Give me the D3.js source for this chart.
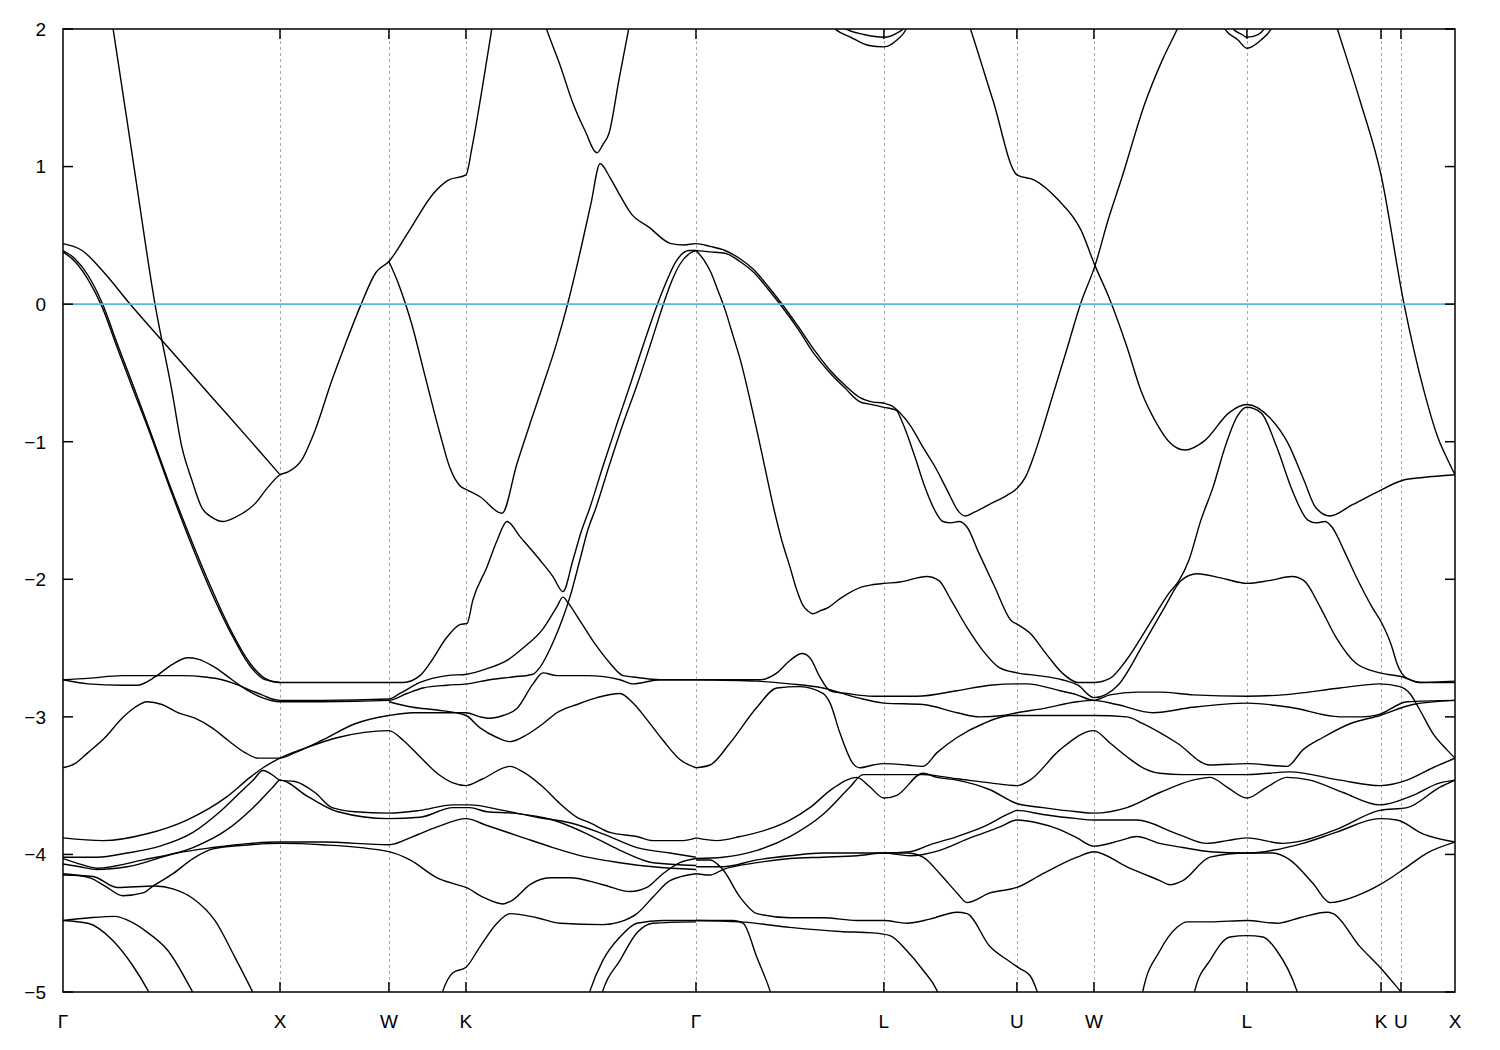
<!DOCTYPE html>
<html><head><meta charset="utf-8">
<script src="https://cdn.jsdelivr.net/npm/d3@7"></script>
<style>body{margin:0;background:#fff;} svg{display:block;}</style>
</head><body>
<svg id="chart" width="1500" height="1050"></svg>
<script>
// ---- axis data ----
const kTicks = [0, 1.0, 1.502, 1.857, 2.917, 3.783, 4.396, 4.751, 5.456, 6.074, 6.166, 6.415];
const kLabels = ["Γ","X","W","K","Γ","L","U","W","L","K","U","X"];
const eTicks = [-5,-4,-3,-2,-1,0,1,2];
const eDomain = [-5, 2];
const fermiLevel = 0;

// ---- bands: [k, E(eV)] ----
const band01 = [[0.221,2.10],[0.230,2.01],[0.327,1.00],[0.424,0],[0.502,-0.63],[0.548,-1.04],[0.594,-1.28],[0.640,-1.48],[0.687,-1.55],[0.737,-1.58],[0.793,-1.55],[0.885,-1.45],[0.945,-1.33],[1.0,-1.24],[1.037,-1.22],[1.101,-1.13],[1.161,-0.92],[1.240,-0.55],[1.299,-0.30],[1.369,-0.02],[1.442,0.23],[1.502,0.31],[1.590,0.52],[1.710,0.81],[1.774,0.90],[1.857,0.94],[1.885,1.14],[1.931,1.56],[1.977,2.01],[1.986,2.10]];
const band02 = [[0,0.44],[0.088,0.39],[0.189,0.23],[0.304,0.01],[0.493,-0.33],[0.677,-0.66],[0.862,-0.99],[1.0,-1.24]];
const band03 = [[0,0.39],[0.055,0.33],[0.115,0.21],[0.180,0.01],[0.253,-0.30],[0.323,-0.59],[0.401,-0.92],[0.493,-1.32],[0.585,-1.69],[0.677,-2.04],[0.770,-2.36],[0.862,-2.61],[0.931,-2.72],[1.0,-2.75],[1.194,-2.75],[1.502,-2.75],[1.567,-2.75],[1.645,-2.70],[1.691,-2.61],[1.770,-2.42],[1.829,-2.33],[1.862,-2.32],[1.889,-2.15],[1.954,-1.91],[2.0,-1.72],[2.046,-1.58],[2.106,-1.69],[2.198,-1.86],[2.258,-1.98],[2.304,-2.09],[2.350,-1.86],[2.387,-1.66],[2.428,-1.48],[2.488,-1.18],[2.553,-0.87],[2.613,-0.59],[2.682,-0.26],[2.742,0.01],[2.788,0.19],[2.825,0.31],[2.885,0.39],[2.917,0.39]];
const band04 = [[0,0.38],[0.055,0.31],[0.115,0.18],[0.180,-0.02],[0.253,-0.33],[0.323,-0.62],[0.401,-0.94],[0.493,-1.34],[0.585,-1.72],[0.677,-2.07],[0.770,-2.38],[0.862,-2.63],[0.931,-2.73],[1.0,-2.75]];
const band05 = [[0,-2.73],[0.115,-2.72],[0.272,-2.70],[0.424,-2.70],[0.548,-2.70],[0.654,-2.71],[0.733,-2.73],[0.793,-2.76],[0.853,-2.80],[0.917,-2.84],[0.963,-2.87],[1.0,-2.88],[1.194,-2.88],[1.502,-2.87],[1.553,-2.83],[1.645,-2.75],[1.770,-2.70],[1.862,-2.69],[1.954,-2.65],[2.046,-2.59],[2.120,-2.50],[2.212,-2.36],[2.276,-2.20],[2.304,-2.13],[2.327,-2.17],[2.382,-2.30],[2.461,-2.49],[2.521,-2.61],[2.581,-2.70],[2.627,-2.71],[2.751,-2.73],[2.917,-2.73]];
const band06 = [[0,-2.73],[0.115,-2.76],[0.272,-2.77],[0.341,-2.77],[0.424,-2.71],[0.502,-2.62],[0.576,-2.57],[0.622,-2.58],[0.700,-2.64],[0.779,-2.73],[0.853,-2.81],[0.917,-2.86],[1.0,-2.89],[1.194,-2.89],[1.502,-2.88],[1.585,-2.83],[1.659,-2.79],[1.770,-2.77],[1.862,-2.76],[1.968,-2.73],[2.074,-2.71],[2.166,-2.69],[2.198,-2.64],[2.258,-2.46],[2.304,-2.28],[2.336,-2.13],[2.382,-1.86],[2.419,-1.64],[2.456,-1.48],[2.516,-1.18],[2.581,-0.87],[2.645,-0.59],[2.714,-0.26],[2.769,0.01],[2.806,0.17],[2.843,0.29],[2.889,0.37],[2.917,0.39]];
const band07 = [[0,-3.37],[0.055,-3.34],[0.115,-3.26],[0.194,-3.15],[0.272,-3.01],[0.332,-2.93],[0.387,-2.89],[0.456,-2.91],[0.530,-2.97],[0.608,-3.01],[0.687,-3.08],[0.760,-3.17],[0.839,-3.26],[0.899,-3.30],[1.0,-3.30],[1.069,-3.26],[1.194,-3.17],[1.346,-3.05],[1.502,-2.99],[1.613,-2.97],[1.770,-2.97],[1.857,-2.97],[1.922,-3.00],[1.968,-3.01],[2.028,-2.99],[2.092,-2.94],[2.166,-2.76],[2.212,-2.68],[2.276,-2.70],[2.415,-2.70],[2.567,-2.73],[2.627,-2.76],[2.751,-2.73],[2.917,-2.73]];
const band08 = [[0,-3.88],[0.184,-3.90],[0.387,-3.85],[0.571,-3.75],[0.756,-3.58],[0.862,-3.44],[0.922,-3.37],[1.0,-3.30],[1.129,-3.22],[1.267,-3.15],[1.502,-3.10],[1.567,-3.17],[1.645,-3.29],[1.724,-3.41],[1.797,-3.48],[1.857,-3.50],[1.935,-3.45],[2.060,-3.36],[2.120,-3.40],[2.212,-3.51],[2.290,-3.63],[2.369,-3.73],[2.429,-3.77],[2.521,-3.84],[2.645,-3.87],[2.719,-3.90],[2.857,-3.90],[2.917,-3.88]];
const band09 = [[1.502,-2.89],[1.613,-2.93],[1.724,-2.95],[1.857,-2.99],[1.922,-3.08],[2.0,-3.15],[2.060,-3.18],[2.138,-3.13],[2.212,-3.05],[2.276,-2.97],[2.369,-2.91],[2.461,-2.86],[2.567,-2.83],[2.627,-2.90],[2.691,-3.02],[2.765,-3.17],[2.843,-3.31],[2.917,-3.37]];
const band10 = [[0,-4.02],[0.157,-4.02],[0.295,-3.99],[0.447,-3.94],[0.599,-3.84],[0.723,-3.69],[0.816,-3.55],[0.876,-3.46],[0.922,-3.39],[0.963,-3.42],[1.0,-3.46],[1.069,-3.47],[1.161,-3.55],[1.240,-3.66],[1.346,-3.69],[1.502,-3.70],[1.645,-3.68],[1.797,-3.64],[1.875,-3.64],[2.028,-3.68],[2.184,-3.73],[2.336,-3.77],[2.488,-3.85],[2.645,-3.95],[2.797,-3.99],[2.917,-4.02]];
const band11 = [[0,-4.03],[0.078,-4.07],[0.157,-4.10],[0.369,-4.04],[0.599,-3.95],[0.756,-3.82],[0.876,-3.66],[0.968,-3.51],[1.0,-3.46],[1.129,-3.58],[1.267,-3.69],[1.502,-3.74],[1.645,-3.73],[1.797,-3.66],[1.875,-3.66],[1.954,-3.69],[2.074,-3.70],[2.258,-3.75],[2.415,-3.85],[2.567,-3.97],[2.719,-4.06],[2.917,-4.08]];
const band12 = [[0,-4.07],[0.078,-4.09],[0.157,-4.11],[0.295,-4.09],[0.525,-3.99],[0.691,-3.95],[0.862,-3.92],[1.0,-3.91],[1.194,-3.91],[1.502,-3.93],[1.613,-3.87],[1.724,-3.80],[1.857,-3.74],[1.954,-3.79],[2.106,-3.87],[2.258,-3.95],[2.415,-4.02],[2.567,-4.06],[2.719,-4.09],[2.917,-4.11]];
const band13 = [[0,-4.14],[0.124,-4.17],[0.194,-4.23],[0.276,-4.30],[0.369,-4.28],[0.415,-4.23],[0.507,-4.14],[0.599,-4.03],[0.691,-3.96],[0.862,-3.93],[1.0,-3.92],[1.194,-3.93],[1.502,-3.98],[1.599,-4.04],[1.724,-4.17],[1.816,-4.22],[1.857,-4.24],[1.935,-4.31],[2.028,-4.36],[2.074,-4.33],[2.152,-4.22],[2.244,-4.17],[2.336,-4.17],[2.488,-4.22],[2.613,-4.27],[2.691,-4.24],[2.765,-4.14],[2.843,-4.06],[2.917,-4.03]];
const band14 = [[0,-4.15],[0.138,-4.16],[0.249,-4.24],[0.424,-4.23],[0.507,-4.25],[0.599,-4.32],[0.700,-4.48],[0.793,-4.75],[0.871,-4.99],[0.899,-5.08]];
const band15 = [[0,-4.48],[0.124,-4.46],[0.240,-4.45],[0.300,-4.48],[0.392,-4.57],[0.484,-4.70],[0.594,-4.99],[0.622,-5.07]];
const band16 = [[0,-4.48],[0.115,-4.50],[0.226,-4.62],[0.318,-4.80],[0.392,-4.99],[0.415,-5.06]];
const band17 = [[1.502,0.31],[1.548,0.14],[1.608,-0.15],[1.668,-0.52],[1.737,-0.94],[1.783,-1.19],[1.829,-1.32],[1.862,-1.35],[1.922,-1.40],[2.023,-1.52],[2.092,-1.16],[2.152,-0.87],[2.212,-0.59],[2.272,-0.30],[2.327,0.01],[2.382,0.37],[2.433,0.73],[2.475,1.02],[2.521,0.92],[2.567,0.79],[2.617,0.66],[2.700,0.56],[2.802,0.44],[2.862,0.43],[2.917,0.44],[2.982,0.42],[3.051,0.39],[3.120,0.33],[3.184,0.25],[3.249,0.13],[3.309,0.01],[3.387,-0.16],[3.461,-0.33],[3.535,-0.48],[3.604,-0.59],[3.673,-0.68],[3.728,-0.71],[3.783,-0.72],[3.820,-0.74],[3.857,-0.79],[3.908,-0.89],[3.963,-1.04],[4.018,-1.18],[4.074,-1.35],[4.129,-1.51],[4.157,-1.54],[4.203,-1.51],[4.276,-1.45],[4.350,-1.39],[4.396,-1.34],[4.438,-1.25],[4.475,-1.10],[4.512,-0.92],[4.558,-0.68],[4.622,-0.35],[4.691,0.01],[4.756,0.28],[4.816,0.61],[4.880,0.92],[4.986,1.46],[5.065,1.77],[5.138,2.01],[5.166,2.11]];
const band18 = [[2.917,0.39],[2.982,0.38],[3.051,0.37],[3.120,0.31],[3.184,0.23],[3.249,0.11],[3.309,-0.01],[3.387,-0.18],[3.461,-0.36],[3.535,-0.50],[3.604,-0.61],[3.673,-0.71],[3.728,-0.73],[3.783,-0.75],[3.839,-0.77],[3.871,-0.87],[3.926,-1.11],[3.972,-1.33],[4.018,-1.50],[4.055,-1.58],[4.092,-1.59],[4.129,-1.58],[4.166,-1.62],[4.221,-1.81],[4.295,-2.06],[4.369,-2.30],[4.401,-2.33],[4.456,-2.39],[4.530,-2.54],[4.604,-2.68],[4.677,-2.75],[4.751,-2.75],[4.825,-2.72],[4.899,-2.59],[5.009,-2.32],[5.097,-2.10],[5.143,-2.01],[5.189,-1.86],[5.244,-1.57],[5.300,-1.33],[5.355,-1.04],[5.410,-0.82],[5.456,-0.75],[5.521,-0.79],[5.594,-1.04],[5.664,-1.35],[5.737,-1.57],[5.774,-1.59],[5.816,-1.58],[5.848,-1.62],[5.903,-1.79],[5.959,-1.98],[6.032,-2.20],[6.078,-2.32],[6.124,-2.49],[6.147,-2.61],[6.194,-2.72],[6.267,-2.75],[6.415,-2.75]];
const band19 = [[2.917,0.39],[2.954,0.32],[2.986,0.23],[3.018,0.10],[3.051,-0.04],[3.088,-0.23],[3.124,-0.42],[3.161,-0.66],[3.198,-0.92],[3.235,-1.19],[3.272,-1.46],[3.313,-1.72],[3.350,-1.91],[3.382,-2.08],[3.410,-2.19],[3.433,-2.23],[3.456,-2.25],[3.488,-2.23],[3.521,-2.21],[3.581,-2.14],[3.673,-2.06],[3.728,-2.04],[3.783,-2.03],[3.857,-2.02],[3.981,-1.98],[4.037,-2.01],[4.092,-2.15],[4.166,-2.35],[4.240,-2.52],[4.313,-2.64],[4.396,-2.68],[4.493,-2.70],[4.604,-2.73],[4.677,-2.77],[4.751,-2.86],[4.862,-2.77],[4.972,-2.49],[5.078,-2.20],[5.152,-2.01],[5.226,-1.96],[5.336,-1.99],[5.456,-2.03],[5.558,-2.01],[5.664,-1.98],[5.719,-2.01],[5.793,-2.20],[5.866,-2.42],[5.959,-2.61],[6.069,-2.68],[6.175,-2.71],[6.249,-2.75],[6.415,-2.74]];
const band20 = [[2.917,-2.73],[3.212,-2.73],[3.290,-2.68],[3.350,-2.59],[3.406,-2.54],[3.442,-2.57],[3.488,-2.71],[3.535,-2.81],[3.613,-2.83],[3.733,-2.85],[3.783,-2.85],[3.935,-2.85],[4.120,-2.81],[4.272,-2.77],[4.396,-2.76],[4.442,-2.76],[4.594,-2.81],[4.673,-2.84],[4.751,-2.88],[4.825,-2.84],[4.949,-2.82],[5.055,-2.82],[5.207,-2.84],[5.456,-2.85],[5.622,-2.84],[5.885,-2.79],[6.069,-2.76],[6.161,-2.78],[6.207,-2.83],[6.253,-2.95],[6.313,-3.12],[6.378,-3.24],[6.415,-3.30]];
const band21 = [[2.917,-2.73],[3.198,-2.74],[3.350,-2.76],[3.502,-2.79],[3.659,-2.86],[3.783,-2.90],[3.963,-2.91],[4.120,-2.97],[4.226,-3.00],[4.332,-2.99],[4.396,-2.97],[4.516,-2.94],[4.673,-2.89],[4.751,-2.88],[4.857,-2.91],[5.023,-2.97],[5.207,-2.93],[5.456,-2.90],[5.654,-2.93],[5.885,-3.00],[5.991,-3.00],[6.069,-2.98],[6.194,-2.89],[6.415,-2.88]];
const band22 = [[2.917,-3.37],[2.982,-3.35],[3.074,-3.19],[3.198,-2.93],[3.290,-2.79],[3.396,-2.78],[3.502,-2.83],[3.535,-2.90],[3.581,-3.12],[3.641,-3.34],[3.673,-3.37],[3.733,-3.35],[3.783,-3.34],[3.889,-3.35],[3.963,-3.36],[4.028,-3.26],[4.120,-3.15],[4.240,-3.05],[4.364,-2.99],[4.396,-2.99],[4.516,-2.99],[4.751,-2.99],[4.903,-3.00],[4.977,-3.05],[5.134,-3.19],[5.286,-3.35],[5.456,-3.34],[5.641,-3.36],[5.714,-3.24],[5.806,-3.15],[5.931,-3.05],[6.069,-2.99],[6.221,-2.91],[6.415,-2.88]];
const band23 = [[2.917,-3.88],[3.014,-3.90],[3.120,-3.87],[3.244,-3.82],[3.350,-3.75],[3.442,-3.66],[3.548,-3.52],[3.659,-3.44],[3.719,-3.51],[3.783,-3.59],[3.843,-3.57],[3.963,-3.41],[4.028,-3.44],[4.120,-3.46],[4.272,-3.53],[4.396,-3.63],[4.516,-3.66],[4.673,-3.69],[4.751,-3.70],[4.903,-3.66],[5.055,-3.55],[5.207,-3.46],[5.286,-3.44],[5.364,-3.51],[5.456,-3.59],[5.548,-3.51],[5.641,-3.44],[5.747,-3.46],[5.899,-3.55],[6.069,-3.64],[6.207,-3.58],[6.346,-3.48],[6.415,-3.46]];
const band24 = [[2.917,-4.03],[3.041,-4.02],[3.198,-3.97],[3.350,-3.87],[3.502,-3.71],[3.627,-3.51],[3.687,-3.42],[3.783,-3.42],[3.963,-3.42],[4.120,-3.45],[4.272,-3.48],[4.396,-3.50],[4.456,-3.46],[4.594,-3.24],[4.751,-3.10],[4.825,-3.19],[4.903,-3.29],[4.977,-3.37],[5.055,-3.41],[5.161,-3.42],[5.286,-3.42],[5.456,-3.42],[5.654,-3.40],[5.885,-3.46],[6.069,-3.50],[6.194,-3.46],[6.313,-3.37],[6.415,-3.30]];
const band25 = [[2.917,-4.09],[3.041,-4.09],[3.198,-4.04],[3.350,-4.01],[3.502,-3.99],[3.659,-3.99],[3.783,-3.99],[3.903,-3.98],[3.995,-3.93],[4.120,-3.87],[4.240,-3.80],[4.364,-3.70],[4.396,-3.68],[4.516,-3.71],[4.673,-3.74],[4.751,-3.75],[4.949,-3.75],[5.134,-3.85],[5.272,-3.92],[5.364,-3.90],[5.456,-3.88],[5.622,-3.92],[5.714,-3.90],[5.866,-3.82],[6.069,-3.68],[6.194,-3.66],[6.346,-3.51],[6.415,-3.46]];
const band26 = [[2.917,-4.14],[2.982,-4.15],[3.041,-4.11],[3.198,-4.06],[3.350,-4.03],[3.502,-4.02],[3.659,-4.01],[3.783,-3.99],[3.903,-4.01],[4.041,-3.97],[4.180,-3.88],[4.318,-3.80],[4.396,-3.75],[4.488,-3.77],[4.594,-3.82],[4.673,-3.88],[4.751,-3.94],[4.871,-3.90],[4.949,-3.87],[5.055,-3.92],[5.161,-3.95],[5.286,-3.98],[5.456,-3.99],[5.576,-3.97],[5.714,-3.92],[5.866,-3.84],[6.069,-3.74],[6.147,-3.75],[6.267,-3.85],[6.415,-3.91]];
const band27 = [[3.783,-3.99],[3.889,-3.99],[3.963,-4.02],[4.041,-4.14],[4.120,-4.28],[4.166,-4.35],[4.272,-4.28],[4.396,-4.24],[4.516,-4.14],[4.673,-4.02],[4.751,-3.98],[4.903,-4.09],[5.055,-4.19],[5.101,-4.22],[5.161,-4.19],[5.286,-4.02],[5.456,-3.99],[5.576,-3.99],[5.654,-4.04],[5.760,-4.21],[5.839,-4.35],[5.963,-4.30],[6.069,-4.22],[6.194,-4.09],[6.286,-3.99],[6.415,-3.91]];
const band28 = [[2.917,-4.04],[2.982,-4.04],[3.041,-4.11],[3.120,-4.31],[3.198,-4.43],[3.350,-4.46],[3.502,-4.46],[3.659,-4.48],[3.783,-4.48],[3.889,-4.50],[3.995,-4.47],[4.120,-4.42],[4.166,-4.43],[4.272,-4.67],[4.364,-4.78],[4.410,-4.83],[4.456,-4.88],[4.488,-4.99],[4.502,-5.06]];
const band29 = [[2.917,-4.48],[3.088,-4.48],[3.134,-4.50],[3.198,-4.75],[3.258,-4.99],[3.272,-5.06]];
const band30 = [[2.917,-4.48],[3.120,-4.49],[3.350,-4.53],[3.581,-4.56],[3.733,-4.57],[3.811,-4.59],[3.889,-4.70],[3.963,-4.84],[4.028,-4.99],[4.046,-5.06]];
const band31 = [[2.415,-5.06],[2.429,-4.99],[2.488,-4.77],[2.567,-4.60],[2.645,-4.50],[2.765,-4.48],[2.917,-4.48]];
const band32 = [[2.475,-5.06],[2.488,-4.99],[2.567,-4.77],[2.645,-4.57],[2.719,-4.50],[2.917,-4.49]];
const band33 = [[1.737,-5.06],[1.751,-4.99],[1.797,-4.86],[1.857,-4.82],[1.922,-4.67],[2.0,-4.50],[2.060,-4.43],[2.184,-4.46],[2.290,-4.50],[2.488,-4.51],[2.567,-4.49],[2.645,-4.43],[2.719,-4.31],[2.797,-4.19],[2.917,-4.14]];
const band34 = [[4.968,-5.06],[4.977,-4.99],[5.055,-4.70],[5.134,-4.53],[5.180,-4.49],[5.286,-4.49],[5.456,-4.48],[5.594,-4.50],[5.700,-4.46],[5.825,-4.42],[5.853,-4.43],[5.977,-4.67],[6.069,-4.82],[6.161,-4.99],[6.198,-5.06]];
const band35 = [[5.207,-5.06],[5.216,-4.99],[5.286,-4.77],[5.378,-4.60],[5.456,-4.59],[5.530,-4.60],[5.594,-4.70],[5.686,-4.99],[5.700,-5.06]];
const band36 = [[4.161,2.10],[4.180,2.01],[4.286,1.48],[4.396,0.94],[4.479,0.90],[4.585,0.76],[4.691,0.54],[4.756,0.28],[4.820,0.05],[4.903,-0.31],[4.968,-0.63],[5.041,-0.87],[5.097,-1.00],[5.170,-1.06],[5.263,-0.99],[5.373,-0.79],[5.456,-0.73],[5.558,-0.82],[5.645,-1.01],[5.719,-1.28],[5.774,-1.48],[5.839,-1.54],[5.940,-1.46],[6.051,-1.37],[6.175,-1.28],[6.267,-1.26],[6.415,-1.24]];
const band37 = [[5.853,2.10],[5.871,2.01],[5.977,1.48],[6.074,0.94],[6.179,0.01],[6.272,-0.63],[6.341,-0.99],[6.378,-1.12],[6.415,-1.24]];
const band38 = [[2.207,2.10],[2.226,2.01],[2.290,1.74],[2.350,1.46],[2.406,1.26],[2.461,1.10],[2.488,1.16],[2.516,1.24],[2.562,1.63],[2.608,2.01],[2.622,2.12]];
const band39 = [[3.539,2.07],[3.553,2.01],[3.631,1.94],[3.714,1.88],[3.783,1.87],[3.843,1.92],[3.889,2.01],[3.903,2.07]];
const band40 = [[3.585,2.06],[3.597,2.01],[3.691,1.96],[3.783,1.94],[3.843,1.97],[3.876,2.01],[3.885,2.06]];
const band41 = [[5.336,2.06],[5.350,2.01],[5.415,1.92],[5.456,1.86],[5.521,1.92],[5.571,2.01],[5.585,2.06]];
const band42 = [[5.373,2.06],[5.387,2.01],[5.433,1.96],[5.456,1.94],[5.507,1.96],[5.539,2.01],[5.553,2.06]];

const bands = [band01,band02,band03,band04,band05,band06,band07,band08,band09,band10,
  band11,band12,band13,band14,band15,band16,band17,band18,band19,band20,
  band21,band22,band23,band24,band25,band26,band27,band28,band29,band30,
  band31,band32,band33,band34,band35,band36,band37,band38,band39,band40,band41,band42];

// ---- layout ----
const svg = d3.select("#chart");
const margin = {left: 63, right: 45, top: 29, bottom: 58};
const width = 1500, height = 1050;
const x = d3.scaleLinear().domain([kTicks[0], kTicks[kTicks.length-1]]).range([margin.left, width - margin.right]);
const y = d3.scaleLinear().domain(eDomain).range([height - margin.bottom, margin.top]);
const font = "'Liberation Sans', Arial, Helvetica, sans-serif";

svg.append("rect").attr("width", width).attr("height", height).attr("fill", "#fff");

svg.append("defs").append("clipPath").attr("id", "plotclip")
  .append("rect").attr("x", x.range()[0]).attr("y", y.range()[1])
  .attr("width", x.range()[1] - x.range()[0]).attr("height", y.range()[0] - y.range()[1]);

// dashed verticals at interior high-symmetry points
svg.append("g").selectAll("line").data(kTicks.slice(1, -1)).join("line")
  .attr("x1", d => Math.round(x(d)) + 0.5).attr("x2", d => Math.round(x(d)) + 0.5)
  .attr("y1", y.range()[1]).attr("y2", y.range()[0])
  .attr("stroke", "#a8a8a8").attr("stroke-width", 1).attr("stroke-dasharray", "3,3");

// bands
const line = d3.line().x(d => x(d[0])).y(d => y(d[1])).curve(d3.curveMonotoneX);
svg.append("g").attr("clip-path", "url(#plotclip)")
  .selectAll("path").data(bands).join("path")
  .attr("d", line).attr("fill", "none").attr("stroke", "#000").attr("stroke-width", 1.4)
  .attr("stroke-linejoin", "round");

// Fermi level
svg.append("line").attr("x1", x.range()[0]).attr("x2", x.range()[1])
  .attr("y1", y(fermiLevel)).attr("y2", y(fermiLevel))
  .attr("stroke", "#56b4e9").attr("stroke-width", 1.6);

// frame
svg.append("rect").attr("x", x.range()[0]).attr("y", y.range()[1])
  .attr("width", x.range()[1] - x.range()[0]).attr("height", y.range()[0] - y.range()[1])
  .attr("fill", "none").attr("stroke", "#000").attr("stroke-width", 1.5);

// y ticks (both sides, inward)
const tickLen = 10;
const yt = svg.append("g");
eTicks.forEach(e => {
  const yy = y(e);
  yt.append("line").attr("x1", x.range()[0]).attr("x2", x.range()[0] + tickLen).attr("y1", yy).attr("y2", yy).attr("stroke", "#000").attr("stroke-width", 1.5);
  yt.append("line").attr("x1", x.range()[1] - tickLen).attr("x2", x.range()[1]).attr("y1", yy).attr("y2", yy).attr("stroke", "#000").attr("stroke-width", 1.5);
  yt.append("text").attr("x", x.range()[0] - 17).attr("y", yy).attr("dy", "0.36em")
    .attr("text-anchor", "end").attr("font-family", font).attr("font-size", 19).text(d3.format("d")(e));
});

// x ticks (top & bottom, inward) and labels
const xt = svg.append("g");
kTicks.forEach((k, i) => {
  const xx = x(k);
  if (i > 0 && i < kTicks.length - 1) {
    xt.append("line").attr("x1", xx).attr("x2", xx).attr("y1", y.range()[0]).attr("y2", y.range()[0] - tickLen).attr("stroke", "#000").attr("stroke-width", 1.5);
    xt.append("line").attr("x1", xx).attr("x2", xx).attr("y1", y.range()[1]).attr("y2", y.range()[1] + tickLen).attr("stroke", "#000").attr("stroke-width", 1.5);
  }
  xt.append("text").attr("x", xx).attr("y", y.range()[0] + 36)
    .attr("text-anchor", "middle").attr("font-family", font).attr("font-size", 19).text(kLabels[i]);
});
</script>
</body></html>
